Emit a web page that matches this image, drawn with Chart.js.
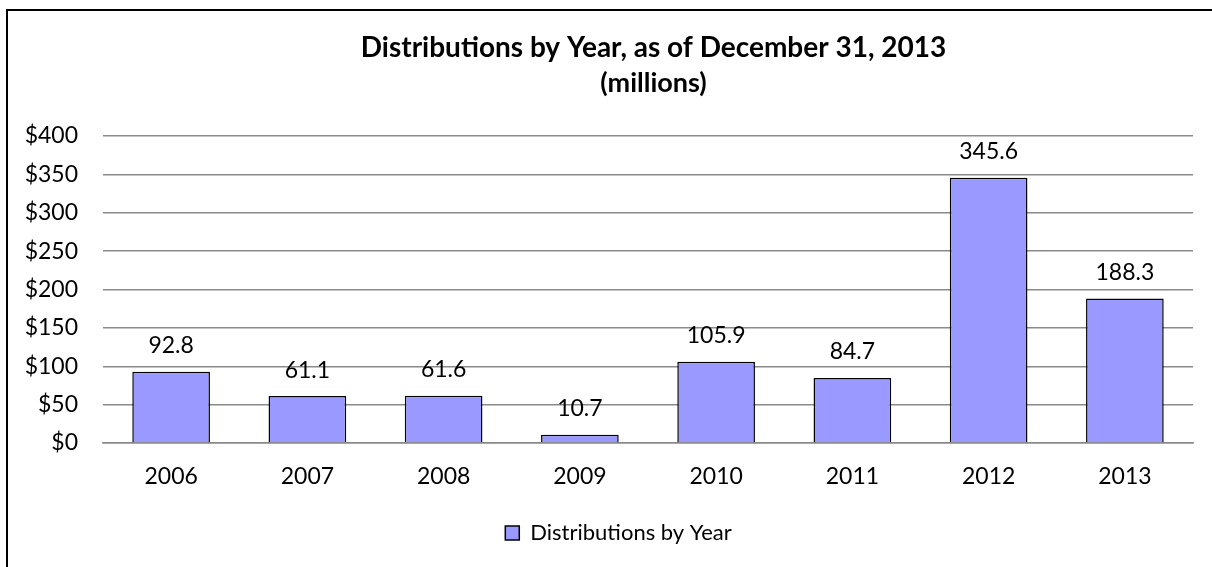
<!DOCTYPE html>
<html>
<head>
<meta charset="utf-8">
<script src="https://cdn.jsdelivr.net/npm/chart.js@4"></script>
<style>
	html, body { margin: 0; padding: 0; background: #fff; overflow: hidden; }
	#wrap { position: relative; width: 1212px; height: 567px; }
</style>
</head>
<body>
<div id="wrap"><canvas id="chart1" width="1212" height="567"></canvas></div>
<script>
const YEARS = ['2006', '2007', '2008', '2009', '2010', '2011', '2012', '2013'];
const DISTRIBUTIONS = [92.8, 61.1, 61.6, 10.7, 105.9, 84.7, 345.6, 188.3];
const SERIES_NAME = 'Distributions by Year';
const TITLE = 'Distributions by Year, as of December 31, 2013';
const SUBTITLE = '(millions)';

const FONT = 'Lato, "Open Sans", sans-serif';

// outer frame of the chart (only top/left visible in the picture)
const framePlugin = {
	id: 'frame',
	afterDraw(chart) {
		const ctx = chart.ctx;
		ctx.save();
		ctx.strokeStyle = '#000';
		ctx.lineWidth = 2;
		ctx.strokeRect(7, 10, 1300, 700);
		ctx.restore();
	},
};

// the original chart is wider than the crop, so titles sit right of centre
const shiftBoxes = {
	id: 'shiftBoxes',
	afterLayout(chart) {
		const move = (box, dx) => {
			box.left += dx;
			box.right += dx;
		};
		chart.boxes.forEach((box) => {
			if (box === chart.legend) move(box, 22);
			else if (box.options && (box.options.text === TITLE || box.options.text === SUBTITLE)) move(box, 57);
		});
	},
};

// value labels above each bar
const valueLabels = {
	id: 'valueLabels',
	afterDatasetsDraw(chart) {
		const ctx = chart.ctx;
		const meta = chart.getDatasetMeta(0);
		ctx.save();
		ctx.font = '23px ' + FONT;
		ctx.fillStyle = '#000';
		ctx.textAlign = 'center';
		ctx.textBaseline = 'middle';
		meta.data.forEach((bar, i) => {
			ctx.fillText(DISTRIBUTIONS[i].toFixed(1), bar.x, bar.y - 26);
		});
		ctx.restore();
	},
};

document.addEventListener('DOMContentLoaded', () => {
	new Chart(document.getElementById('chart1'), {
		type: 'bar',
		data: {
			labels: YEARS,
			datasets: [
				{
					label: SERIES_NAME,
					data: DISTRIBUTIONS,
					backgroundColor: '#9999FF',
					borderColor: '#000',
					borderWidth: 1.5,
					categoryPercentage: 1,
					barPercentage: 0.57,
				},
			],
		},
		options: {
			responsive: false,
			animation: false,
			layout: { padding: { left: 0, right: 19, top: 0, bottom: 13 } },
			plugins: {
				title: {
					display: true,
					text: TITLE,
					color: '#000',
					font: { family: FONT, size: 28, weight: 'bold' },
					padding: { top: 31, bottom: 2.2 },
				},
				subtitle: {
					display: true,
					text: SUBTITLE,
					color: '#000',
					font: { family: FONT, size: 27, weight: 'bold' },
					padding: { top: 0, bottom: 36.8 },
				},
				legend: {
					position: 'bottom',
					labels: {
						color: '#000',
						font: { family: FONT, size: 22 },
						boxWidth: 14,
						boxHeight: 14,
						padding: 10,
					},
				},
				tooltip: { enabled: false },
			},
			scales: {
				x: {
					grid: { display: false, drawTicks: false },
					border: { display: true, color: '#8a8a8a', width: 1.5 },
					ticks: { color: '#000', font: { family: FONT, size: 23 }, padding: 20 },
					afterFit(scale) { scale.height = 69; },
				},
				y: {
					min: 0,
					max: 400,
					grid: { color: '#8a8a8a', lineWidth: 1.5, drawTicks: false },
					border: { display: false },
					ticks: {
						stepSize: 50,
						color: '#000',
						font: { family: FONT, size: 23 },
						padding: 25,
						callback: (v) => '$' + v,
					},
					afterFit(scale) { scale.width = 103; },
				},
			},
		},
		plugins: [valueLabels, framePlugin, shiftBoxes],
	});
});
</script>
</body>
</html>
